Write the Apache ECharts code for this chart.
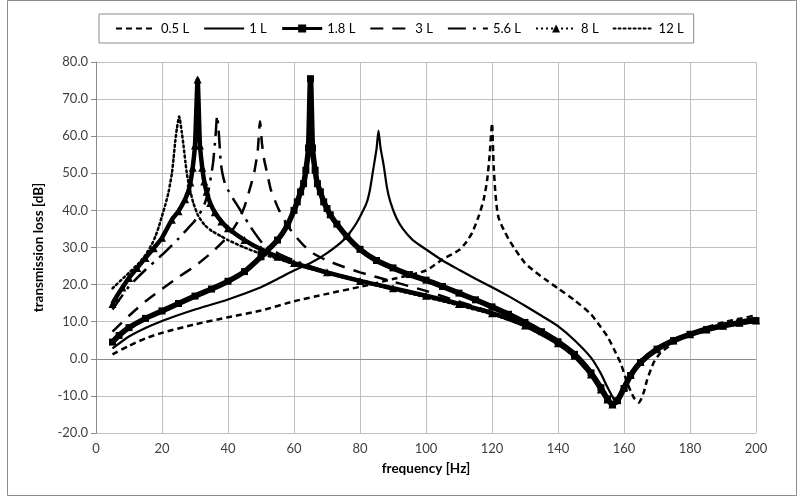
<!DOCTYPE html>
<html>
<head>
<meta charset="utf-8">
<script src="https://cdn.jsdelivr.net/npm/echarts@6/dist/echarts.min.js"></script>
<style>
html,body{margin:0;padding:0;background:#fff;}
#chart{width:803px;height:501px;}
</style>
</head>
<body>
<div id="chart"></div>
<script>
var seriesNames = ['0.5 L', '1 L', '1.8 L', '3 L', '5.6 L', '8 L', '12 L'];
var xTicks = [0, 20, 40, 60, 80, 100, 120, 140, 160, 180, 200];
var yTicks = [-20, -10, 0, 10, 20, 30, 40, 50, 60, 70, 80];

var f05 = [5,10,15,20,30,40,50,60,70,80,90,100,105,110,112,114,116,117.5,118.5,119.3,120,120.5,121,121.5,122,123,124,125,127,130,133,136,140,145,150,153,155,157,159,161,163,164.5,166,167,169,171,175,180,185,190,195,200];
var tl05 = [1.2,3.5,5.5,7,9.3,11.2,13,15.5,17.5,19.4,21.5,23.8,26.8,29.3,31.2,34,38.5,43,48,55,63.5,52,45,40.5,38,35.8,34,32.3,29.5,25.8,23.5,21.5,19,15.8,12,8.5,6,2.5,-1.2,-6.5,-10.5,-11.8,-9,-5.7,-1,1.5,4.3,6.8,8.5,9.8,10.8,11.7];

var f1 = [5,10,15,20,25,30,40,50,55,60,65,70,75,78,80,82,83,84,85,85.6,86.2,87.2,88.2,89.2,91,93,96,100,105,110,115,120,125,130,135,140,145,150,153,155,157,158,159,160,162,165,170,175,180,185,190,195,200];
var tl1 = [2.8,6,8.3,10.2,11.8,13.3,16,19.3,21.5,23.8,25.8,28.5,32,35.3,38.3,42,45.5,51,56.5,61.5,57,52,46,42.3,38,35,32,29.5,26.5,24,21.6,19.3,16.9,14.3,11.6,8.8,5,0.3,-4,-7.7,-11,-12,-10.5,-8,-4.5,-0.5,2.6,4.8,6.5,7.8,8.8,9.6,10.2];

var f18 = [5,7,10,15,20,25,30,35,40,45,50,55,58,60,61,62,62.9,63.6,64.4,65,65.6,66.4,67.1,68,69,70,71,73,76,80,85,90,95,100,105,110,115,120,125,130,135,140,145,150,153,155,156.5,158,160,162,165,170,175,180,185,190,195,200];
var tl18 = [4.5,6.3,8.4,10.9,12.9,14.9,16.9,18.8,20.9,23.5,27.5,32,36,40,42.3,45,47.2,50.8,56.8,75.5,56.8,50.8,47.2,45,42.3,40.5,38.8,36.3,33,29.5,26.5,24.5,22.7,21.2,19.5,17.7,15.9,14,12,9.8,7.3,4.6,1.2,-3.8,-7.8,-10.8,-12.3,-11.3,-8,-4.5,-1,2.6,4.9,6.6,7.9,8.9,9.7,10.3];

var f3 = [5,10,15,20,25,30,35,40,43,45,47,48,49,49.7,50.3,51,52,53,55.5,58,60,63,66,70,75,80,90,100,107,115,120,130,140,145,150,153,155,156.5,158,160,163,165,170,175,180,185,190,195,200];
var tl3 = [7.3,11.6,15.5,18.8,22,25,28.6,33,37,41,47,50.5,56,64,58,53.5,49.5,45.5,40,36,33.5,30.5,28.3,26.5,24.8,23.3,20.8,18.3,16.3,14,12.5,9,4,0.5,-4.5,-8.5,-11,-12.2,-11,-7.5,-3,-0.8,2.7,5,6.8,8.2,9.3,10.2,11];

var f56 = [5,10,15,20,25,28,30,32,33,34,35,35.5,36.2,36.7,37.3,37.8,38.3,39,40,41,42,44.5,46.5,50.6,55,60,70,80,90,100,110,120,130,140,145,150,153,155,156.5,158,160,162,165,170,175,180,185,190,195,200];
var tl56 = [13.3,19.5,24,28,32.4,35.3,37.3,40,42,45,50,53,59.8,65.5,59.8,53,50,47.5,45.5,44,42.5,39,36,31,28.5,26.5,23.5,21.2,19,16.9,14.6,12.2,9,4.2,0.8,-4.2,-8.3,-11,-12.3,-11,-7.6,-4.2,-0.8,2.6,4.9,6.6,7.9,8.9,9.7,10.3];

var f8 = [5,6,8,10,12.5,15,17.5,20,23,25,27,28,28.6,29.3,30,30.8,31.5,32.2,32.8,33.5,34.6,36,38,40,45,50,55,60,70,80,90,100,110,120,130,140,145,150,153,155,156.5,158,160,162,165,170,175,180,185,190,195,200];
var tl8 = [14.8,16.4,19.2,21.8,24.5,27.2,29.8,32.6,37.5,39.8,43,45.2,47.5,51.5,57.5,75.3,57.5,51.5,47.8,45,42,39.5,37,35.2,32,29.5,27.5,25.8,23.3,21,19,17,14.8,12.3,9,4.2,0.8,-4.2,-8.3,-11,-12.3,-11,-7.6,-4.2,-0.8,2.6,4.9,6.6,7.9,8.9,9.7,10.3];

var f12 = [5,10,13,15,17,18,19,20,21,22,23,23.5,24,24.5,25.2,26,26.5,27.1,27.6,28.4,29.5,31,33,35,38,40,45,50,55,60,70,80,90,100,110,120,130,140,145,150,153,155,156.5,158,160,162,165,170,175,180,185,190,195,200];
var tl12 = [19,23.2,25.8,28,31,33,35.5,38.5,41.5,45,50,54,58.5,62,65.3,61,57.6,53,49.5,45.9,42,38.5,36,34.5,33,32,30,28.3,27,25.5,23,20.8,18.7,16.6,14.4,12,8.8,4,0.6,-4.4,-8.5,-11.2,-12.4,-11.2,-7.8,-4.4,-1,2.5,4.8,6.5,7.8,8.8,9.6,10.2];

function pairs(fs, vs) { return fs.map(function (f, i) { return [f, vs[i]]; }); }

var FONT = 'Lato, "Open Sans", sans-serif';
var chart = echarts.init(document.getElementById('chart'), null, { renderer: 'canvas' });

var base = { type: 'line', smooth: 0.2, symbol: 'none', animation: false, z: 2 };
function mk(name, fs, vs, line, extra) {
  var s = Object.assign({}, base, { name: name, data: pairs(fs, vs), lineStyle: line, itemStyle: { color: '#000' } });
  return Object.assign(s, extra || {});
}

var series = [
  mk(seriesNames[0], f05, tl05, { color: '#000', width: 2.5, type: [6, 4] }),
  mk(seriesNames[1], f1, tl1, { color: '#000', width: 2.2, type: 'solid' }),
  mk(seriesNames[2], f18, tl18, { color: '#000', width: 5.5, type: 'solid' }, { symbol: 'rect', symbolSize: 7, showSymbol: true }),
  mk(seriesNames[3], f3, tl3, { color: '#000', width: 2.5, type: [13, 9] }),
  mk(seriesNames[4], f56, tl56, { color: '#000', width: 2.5, type: [18, 7, 3, 7] }),
  mk(seriesNames[5], f8, tl8, { color: '#000', width: 4.5, type: 'solid' }, { symbol: 'triangle', symbolSize: 8, showSymbol: true }),
  mk(seriesNames[6], f12, tl12, { color: '#000', width: 2.5, type: [2, 3], cap: 'round' })
];

var noMark = { opacity: 0 };
var option = {
  backgroundColor: '#fff',
  animation: false,
  graphic: [{
    type: 'rect', silent: true, z: 0,
    shape: { x: 7.5, y: 0.5, width: 789, height: 495 },
    style: { fill: null, stroke: '#8c8c8c', lineWidth: 1 }
  }],
  legend: {
    left: 99, top: 14,
    itemWidth: 40, itemHeight: 10, itemGap: 14,
    padding: [8, 10, 8, 16],
    borderColor: '#8c8c8c', borderWidth: 1,
    textStyle: { fontFamily: FONT, fontSize: 13, color: '#000' },
    data: [
      { name: seriesNames[0], itemStyle: noMark },
      { name: seriesNames[1], itemStyle: noMark },
      { name: seriesNames[2], lineStyle: { width: 3 } },
      { name: seriesNames[3], itemStyle: noMark },
      { name: seriesNames[4], itemStyle: noMark },
      { name: seriesNames[5], lineStyle: { width: 2, type: [2, 3] } },
      { name: seriesNames[6], itemStyle: noMark }
    ]
  },
  grid: { left: 96, right: 47, top: 62, bottom: 68, containLabel: false },
  xAxis: {
    type: 'value', min: xTicks[0], max: xTicks[xTicks.length - 1], interval: 20,
    name: 'frequency [Hz]', nameLocation: 'middle', nameGap: 29,
    nameTextStyle: { fontFamily: FONT, fontSize: 13.5, fontWeight: 'bold', color: '#000' },
    axisLine: { show: true, lineStyle: { color: '#8c8c8c', width: 1 } },
    axisTick: { show: false },
    axisLabel: { fontFamily: FONT, fontSize: 13, color: '#404040', margin: 9 },
    splitLine: { show: true, lineStyle: { color: '#c0c0c0', width: 1 } }
  },
  yAxis: {
    type: 'value', min: yTicks[0], max: yTicks[yTicks.length - 1], interval: 10,
    name: 'transmission loss [dB]', nameLocation: 'middle', nameGap: 50,
    nameTextStyle: { fontFamily: FONT, fontSize: 13.5, fontWeight: 'bold', color: '#000' },
    axisLine: { show: true, lineStyle: { color: '#8c8c8c', width: 1 } },
    axisTick: { show: true, length: 5, inside: false, lineStyle: { color: '#8c8c8c' } },
    axisLabel: { fontFamily: FONT, fontSize: 13, color: '#404040', margin: 8,
      formatter: function (v) { return v.toFixed(1); } },
    splitLine: { show: true, lineStyle: { color: '#c0c0c0', width: 1 } }
  },
  series: series
};
chart.setOption(option);
</script>
</body>
</html>
